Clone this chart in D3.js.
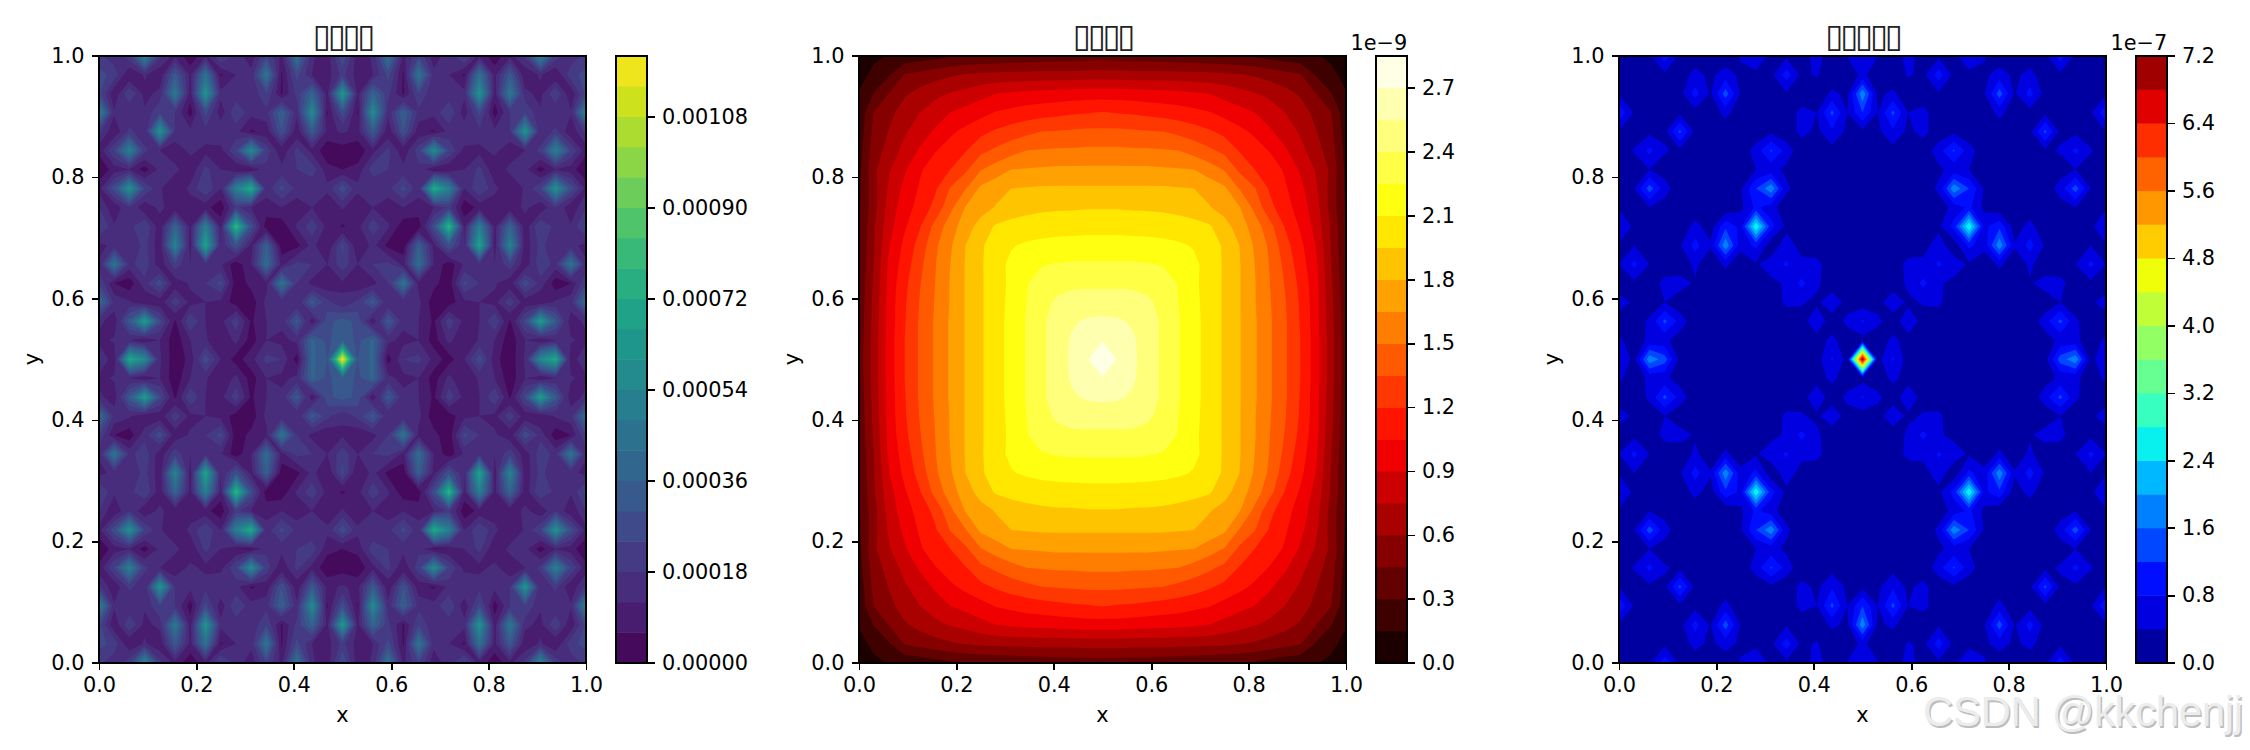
<!DOCTYPE html>
<html>
<head>
<meta charset="utf-8">
<script src="https://cdn.jsdelivr.net/npm/d3@7"></script>
<style>
  html, body { margin: 0; padding: 0; background: #fff; }
  text { font-family: "DejaVu Sans", sans-serif; fill: #000; }
  .tick line, .frame { stroke: #000; stroke-width: 1.67px; shape-rendering: crispEdges; }
  .frame { fill: none; }
</style>
</head>
<body>
<svg id="fig" width="2250" height="750"></svg>
<script>
// Values at the grid nodes x,y = i/32 of the top-left quarter
// (y from 1.0 down to 0.5, x from 0.0 to 0.5); the field is mirrored in both axes.

// first panel, units of 1e-5
var viridisRows = [
  [20,14,22,56,20,10,2,10,26,16,8,24,10,46,13,8,30],
  [26,22,6,13,7,33,10,44,5,12,14,46,5,26,12,9,20],
  [26,7,24,10,14,48,9,62,14,14,13,24,5,20,38,10,64],
  [54,13,12,13,24,18,3,26,8,24,14,16,36,14,58,5,28],
  [20,7,20,12,62,18,14,16,18,14,5,8,30,7,33,10,13],
  [8,24,52,20,12,7,14,10,10,24,58,22,7,20,10,2,3],
  [0.5,9,12,3,14,14,7,20,12,6,5,16,14,18,22,8,6],
  [10,28,60,24,13,6,14,24,12,52,74,14,26,16,12,14,28],
  [18,7,18,7,14,7,8,8,2,20,12,10,12,8,12,6,13],
  [26,13,16,24,8,38,10,52,10,80,28,2,2,13,22,10,5],
  [10,14,13,20,8,54,8,70,12,30,10,36,2,4,14,6,26],
  [13,46,16,22,8,22,12,16,13,2,12,42,10,20,18,12,22],
  [24,6,2,16,28,8,13,18,26,2,8,10,46,18,10,7,11],
  [42,16,13,6,8,22,10,12,10,3,2,14,13,12,33,20,13],
  [14,8,33,66,26,5,24,12,10,22,5,12,14,33,7,28,33],
  [10,13,12,6,12,2,12,13,6,14,3,12,10,14,38,28,36],
  [20,7,72,56,13,2,8,28,12,3,10,20,18,3,38,30,119]
];

// second panel, units of 1e-9
var hotRows = [
  [.03,.12,.16,.19,.21,.24,.28,.30,.31,.32,.33,.34,.35,.36,.36,.37,.38],
  [.10,.19,.29,.46,.50,.54,.58,.61,.63,.64,.65,.65,.66,.66,.66,.67,.67],
  [.16,.31,.46,.58,.65,.71,.76,.80,.85,.90,.92,.94,.95,.96,.97,.98,.98],
  [.19,.46,.56,.67,.75,.83,.90,.95,1.00,1.06,1.09,1.12,1.14,1.16,1.18,1.19,1.21],
  [.21,.50,.61,.73,.83,.92,1.02,1.09,1.16,1.22,1.27,1.31,1.35,1.36,1.37,1.38,1.38],
  [.24,.53,.66,.80,.92,1.04,1.12,1.19,1.31,1.38,1.44,1.50,1.51,1.52,1.52,1.53,1.53],
  [.26,.57,.74,.88,1.03,1.13,1.20,1.32,1.49,1.57,1.65,1.66,1.67,1.68,1.68,1.68,1.68],
  [.27,.55,.78,.94,1.07,1.18,1.36,1.49,1.68,1.75,1.80,1.81,1.82,1.82,1.82,1.82,1.82],
  [.28,.55,.82,.98,1.11,1.24,1.46,1.66,1.74,1.81,1.87,1.90,1.92,1.93,1.93,1.94,1.94],
  [.29,.59,.85,1.03,1.19,1.40,1.58,1.73,1.86,1.97,2.00,2.02,2.03,2.04,2.05,2.05,2.05],
  [.30,.60,.90,1.09,1.26,1.47,1.63,1.80,1.93,2.02,2.09,2.12,2.14,2.15,2.15,2.16,2.16],
  [.31,.61,.94,1.12,1.31,1.49,1.65,1.81,1.93,2.05,2.13,2.20,2.24,2.26,2.27,2.27,2.27],
  [.33,.63,.96,1.16,1.34,1.50,1.66,1.81,1.93,2.04,2.13,2.24,2.32,2.36,2.37,2.37,2.37],
  [.34,.65,.97,1.18,1.36,1.51,1.66,1.81,1.93,2.04,2.14,2.25,2.36,2.42,2.46,2.47,2.47],
  [.35,.66,.97,1.19,1.37,1.52,1.67,1.81,1.93,2.04,2.15,2.26,2.37,2.47,2.53,2.57,2.58],
  [.36,.67,.98,1.20,1.37,1.52,1.67,1.81,1.93,2.04,2.15,2.26,2.37,2.47,2.57,2.65,2.69],
  [.37,.67,.98,1.20,1.37,1.52,1.67,1.81,1.93,2.04,2.15,2.26,2.37,2.47,2.58,2.69,2.82]
];

// third panel, units of 1e-7
var jetRows = [
  [.1,.1,.3,1.05,.3,.1,.1,.1,.45,.7,.3,.3,.15,.6,.1,.42,.75],
  [.1,.1,.15,.3,.15,.55,.3,.6,.3,.3,.3,1.0,.3,.45,.1,.15,.5],
  [.35,.1,.1,.1,.25,.95,.35,1.4,.35,.1,.1,.35,.1,.1,.5,.3,1.9],
  [1.1,.35,.1,.25,.3,.25,.1,.55,.1,.39,.1,.1,.55,.4,1.3,.4,1.2],
  [.4,.1,.3,.3,1.3,.3,.1,.1,.1,.1,.3,.1,.55,.3,.75,.3,.3],
  [.1,.45,.9,.45,.3,.1,.1,.1,.1,.6,1.25,.65,.1,.1,.25,.1,.1],
  [.1,.1,.4,.2,.1,.1,.1,.1,.1,.4,.55,.3,.1,.1,.1,.1,.1],
  [.1,.4,1.4,.6,.1,.1,.1,.1,.35,1.2,1.9,.5,.1,.1,.1,.1,.39],
  [.35,.1,.4,.2,.1,.1,.1,.1,.3,.9,.55,.15,.1,.1,.1,.1,.1],
  [.8,.3,.1,.39,.1,.55,.2,1.1,.7,2.8,.95,.3,.1,.1,.1,.1,.1],
  [.35,.4,.1,.1,.35,.95,.45,1.9,.55,.9,.15,.6,.25,.1,.1,.1,.1],
  [.4,.9,.4,.1,.1,.5,.1,.5,.1,.35,.6,.85,.5,.55,.1,.1,.1],
  [.1,.3,.1,.55,.6,.35,.1,.1,.1,.1,.3,.45,.9,.5,.1,.1,.1],
  [.65,.3,.1,.4,.1,.1,.1,.1,.1,.1,.1,.5,.45,.3,.75,.2,.2],
  [.1,.1,.5,1.3,.65,.1,.1,.1,.1,.1,.1,.1,.2,.75,.12,.52,.85],
  [.5,.15,.5,.5,.2,.1,.1,.1,.1,.1,.1,.1,.1,.2,.52,.12,.25],
  [.8,.25,1.9,1.4,.25,.1,.1,.39,.1,.1,.1,.1,.1,.2,.85,.25,7.15]
];

var axisTicks = [0, 0.2, 0.4, 0.6, 0.8, 1];
var viridisTicks = [0, 18, 36, 54, 72, 90, 108];
var hotTicks = [0, 0.3, 0.6, 0.9, 1.2, 1.5, 1.8, 2.1, 2.4, 2.7];
var jetTicks = [0, 0.8, 1.6, 2.4, 3.2, 4.0, 4.8, 5.6, 6.4, 7.2];

// colormap anchor points, same tables matplotlib uses
var hotStops = {
  r: [[0, .0416], [.365079, 1], [1, 1]],
  g: [[0, 0], [.365079, 0], [.746032, 1], [1, 1]],
  b: [[0, 0], [.746032, 0], [1, 1]]
};
var jetStops = {
  r: [[0, 0], [.35, 0], [.66, 1], [.89, 1], [1, .5]],
  g: [[0, 0], [.125, 0], [.375, 1], [.64, 1], [.91, 0], [1, 0]],
  b: [[0, .5], [.11, 1], [.34, 1], [.65, 0], [1, 0]]
};

function stopColor(stops) {
  var chan = {};
  ["r", "g", "b"].forEach(function(c) {
    chan[c] = d3.scaleLinear()
      .domain(stops[c].map(function(s) { return s[0]; }))
      .range(stops[c].map(function(s) { return s[1] * 255; }));
  });
  return function(t) { return d3.rgb(chan.r(t), chan.g(t), chan.b(t)).formatHex(); };
}

// size of things, taken from the 150 dpi figure
var plotW = 487, plotH = 607, plotTop = 55.7;
var barGap = 29.7, barW = 31.6;
var fontSize = 20.83, tickLen = 7.3, tickPad = 7.3;

var panels = [
  {left: 99, title: "\u25AF\u25AF\u25AF\u25AF", rows: viridisRows, step: 6, bands: 20,
    color: d3.interpolateViridis, ticks: viridisTicks,
    fmt: function(d) { return d3.format(".5f")(d * 1e-5); }, offset: null},
  {left: 859, title: "\u25AF\u25AF\u25AF\u25AF", rows: hotRows, step: 0.15, bands: 19,
    color: stopColor(hotStops), ticks: hotTicks, fmt: d3.format(".1f"), offset: "1e\u22129"},
  {left: 1619, title: "\u25AF\u25AF\u25AF\u25AF\u25AF", rows: jetRows, step: 0.4, bands: 18,
    color: stopColor(jetStops), ticks: jetTicks, fmt: d3.format(".1f"), offset: "1e\u22127"}
];

var svg = d3.select("#fig");

/** Puts the quarter grid back together into a flat 33x33 list */
function fullGrid(rows) {
  var out = [];
  for (var j = 0; j < 33; j++) {
    var row = rows[j <= 16 ? j : 32 - j];
    for (var i = 0; i < 33; i++) out.push(row[i <= 16 ? i : 32 - i]);
  }
  return out;
}

function drawPanel(p, idx) {
  var g = svg.append("g").attr("transform", "translate(" + p.left + "," + plotTop + ")");
  var x = d3.scaleLinear().domain([0, 1]).range([0, plotW]);
  var y = d3.scaleLinear().domain([0, 1]).range([plotH, 0]);

  var clipId = "clip" + idx;
  g.append("clipPath").attr("id", clipId).append("rect")
    .attr("width", plotW).attr("height", plotH);

  var levels = d3.range(p.bands).map(function(k) { return k * p.step; });
  var grid = fullGrid(p.rows);
  var bandSets = d3.contours().size([33, 33]).thresholds(levels)(grid);

  // contour coords have node i at i + 0.5
  var path = d3.geoPath(d3.geoTransform({
    point: function(cx, cy) { this.stream.point(x((cx - 0.5) / 32), y((cy - 0.5) / 32)); }
  }));

  g.append("g").attr("clip-path", "url(#" + clipId + ")")
    .selectAll("path")
    .data(bandSets)
    .enter()
    .append("path")
    .attr("d", path)
    .attr("fill", function(d, k) { return p.color((k + 0.5) / p.bands); });

  g.append("rect").attr("class", "frame").attr("width", plotW).attr("height", plotH);

  var xAxis = g.append("g").attr("transform", "translate(0," + plotH + ")")
    .call(d3.axisBottom(x).tickValues(axisTicks).tickFormat(d3.format(".1f"))
      .tickSize(tickLen).tickPadding(tickPad));
  var yAxis = g.append("g")
    .call(d3.axisLeft(y).tickValues(axisTicks).tickFormat(d3.format(".1f"))
      .tickSize(tickLen).tickPadding(tickPad));
  [xAxis, yAxis].forEach(function(a) {
    a.select(".domain").remove();
    a.selectAll("text").style("font-size", fontSize + "px").style("font-family", "DejaVu Sans");
  });

  g.append("text").attr("x", plotW / 2).attr("y", plotH + 59)
    .attr("text-anchor", "middle").style("font-size", fontSize + "px").text("x");
  g.append("text").attr("transform", "translate(" + (-60) + "," + (plotH / 2) + ") rotate(-90)")
    .attr("text-anchor", "middle").style("font-size", fontSize + "px").text("y");
  g.append("text").attr("x", plotW / 2).attr("y", -9)
    .attr("text-anchor", "middle").style("font-size", "33px")
    .style("letter-spacing", "-3.3px").style("fill", "#222").text(p.title);

  // colorbar
  var bar = g.append("g").attr("transform", "translate(" + (plotW + barGap) + ",0)");
  var top = p.bands * p.step;
  var c = d3.scaleLinear().domain([0, top]).range([plotH, 0]);
  bar.selectAll("rect.band")
    .data(d3.range(p.bands))
    .enter()
    .append("rect")
    .attr("class", "band")
    .attr("width", barW)
    .attr("y", function(k) { return c((k + 1) * p.step); })
    .attr("height", function(k) { return c(k * p.step) - c((k + 1) * p.step) + 0.5; })
    .attr("fill", function(k) { return p.color((k + 0.5) / p.bands); });
  bar.append("rect").attr("class", "frame").attr("width", barW).attr("height", plotH);
  var cAxis = bar.append("g").attr("transform", "translate(" + barW + ",0)")
    .call(d3.axisRight(c).tickValues(p.ticks).tickFormat(p.fmt)
      .tickSize(tickLen).tickPadding(tickPad));
  cAxis.select(".domain").remove();
  cAxis.selectAll("text").style("font-size", fontSize + "px").style("font-family", "DejaVu Sans");
  if (p.offset) {
    bar.append("text").attr("x", barW).attr("y", -5.7)
      .attr("text-anchor", "end").style("font-size", fontSize + "px").text(p.offset);
  }
}

panels.forEach(drawPanel);

// site watermark, pale letters with a grey edge
[[1924.5, 727.5, "#bdbdbd"], [1923, 726, "#ececec"]].forEach(function(m) {
  svg.append("text").attr("x", m[0]).attr("y", m[1])
    .attr("textLength", 320).attr("lengthAdjust", "spacing")
    .style("font-size", "42px").style("font-family", "Liberation Sans")
    .style("fill", m[2]).text("CSDN @kkchenjj");
});
</script>
</body>
</html>
